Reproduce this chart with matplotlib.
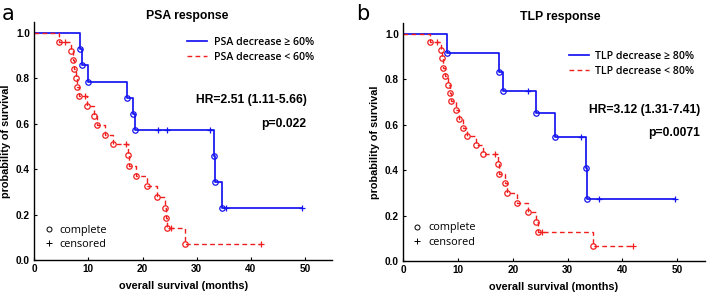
import matplotlib
matplotlib.use("Agg")
import matplotlib.pyplot as plt
from matplotlib.lines import Line2D

# ---------------- data ----------------
# Panel a: PSA response
psa_hi_event_t = [8.4, 8.8, 10.0, 17.2, 18.2, 18.6, 33.2, 33.4, 34.6]
psa_hi_event_s = [0.929, 0.857, 0.786, 0.714, 0.643, 0.571, 0.457, 0.343, 0.229]
psa_hi_cens_t = [22.9, 24.5, 32.5, 35.4, 49.5]
psa_hi_cens_s = [0.571, 0.571, 0.571, 0.229, 0.229]

psa_lo_event_t = [4.6, 6.8, 7.1, 7.3, 7.7, 7.9, 8.25, 9.8, 11.0, 11.5, 13.1, 14.6,
                  17.4, 17.5, 18.8, 20.8, 22.7, 24.1, 24.3, 24.5, 27.8]
psa_lo_event_s = [0.962, 0.921, 0.881, 0.841, 0.801, 0.761, 0.721, 0.679, 0.636,
                  0.594, 0.551, 0.509, 0.462, 0.416, 0.370, 0.324, 0.278, 0.231,
                  0.185, 0.139, 0.069]
psa_lo_cens_t = [5.7, 9.4, 16.9, 25.2, 41.9]
psa_lo_cens_s = [0.962, 0.721, 0.509, 0.139, 0.069]

# Panel b: TLP response
tlp_hi_event_t = [8.0, 17.5, 18.2, 24.2, 27.7, 33.3, 33.6]
tlp_hi_event_s = [0.917, 0.833, 0.750, 0.654, 0.547, 0.410, 0.274]
tlp_hi_cens_t = [22.8, 32.5, 35.7, 49.6]
tlp_hi_cens_s = [0.750, 0.547, 0.274, 0.274]

tlp_lo_event_t = [4.9, 6.8, 7.0, 7.3, 7.7, 8.2, 8.5, 8.7, 9.7, 10.2, 10.95, 11.6,
                  13.3, 14.6, 17.3, 17.5, 18.6, 18.9, 20.8, 22.8, 24.3, 24.5, 34.6]
tlp_lo_event_s = [0.964, 0.930, 0.892, 0.852, 0.815, 0.777, 0.741, 0.704, 0.664,
                  0.625, 0.588, 0.550, 0.510, 0.471, 0.428, 0.385, 0.343, 0.300,
                  0.257, 0.214, 0.171, 0.128, 0.064]
tlp_lo_cens_t = [6.2, 16.7, 25.3, 41.9]
tlp_lo_cens_s = [0.964, 0.471, 0.128, 0.064]

xticks = [0, 10, 20, 30, 40, 50]
yticks = [0.0, 0.2, 0.4, 0.6, 0.8, 1.0]

BLUE = "#1414f0"
RED = "#f01e1e"
BOLD_FONT = "Liberation Sans"
LEG_FONT = "Open Sans"

fig = plt.figure(figsize=(7.08, 2.95), dpi=100)
ax_a = fig.add_axes([0.0484, 0.1186, 0.4205, 0.808])
ax_b = fig.add_axes([0.5696, 0.1153, 0.4257, 0.808])


def km(ax, et, es, ct, cs, color, ls, lw, dashes=None):
    t_end = max(ct[-1], et[-1])
    xs = [0] + list(et) + [t_end]
    ys = [1.0] + list(es) + [es[-1]]
    line, = ax.step(xs, ys, where="post", color=color, lw=lw, linestyle=ls)
    if dashes is not None:
        line.set_dashes(dashes)
    ax.plot(et, es, linestyle="none", marker="o", ms=3.9, mfc="none",
            mec=color, mew=0.9)
    ax.plot(ct, cs, linestyle="none", marker="+", ms=4.5, mec=color, mew=0.9)
    return line


def panel(ax, title, title_x, hi, lo, hi_lab, lo_lab, hr, p,
          leg_anchor, comp_anchor, txt_x, hr_y, p_y):
    l_hi = km(ax, *hi, BLUE, "-", 1.25)
    l_lo = km(ax, *lo, RED, "--", 1.0, dashes=(3.4, 2.4))
    ax.set_xlim(0, 55)
    ax.set_ylim(0, 1.05)
    ax.set_xticks(xticks)
    ax.set_yticks(yticks)
    ax.set_yticklabels([f"{v:.1f}" for v in yticks])
    for sp in ("top", "right"):
        ax.spines[sp].set_visible(False)
    for sp in ("left", "bottom"):
        ax.spines[sp].set_linewidth(1.0)
    ax.tick_params(direction="in", length=2.5, width=0.8, pad=3)
    for lab in ax.get_xticklabels() + ax.get_yticklabels():
        lab.set_fontfamily(BOLD_FONT)
        lab.set_fontweight("bold")
        lab.set_fontsize(7.2)
    ax.set_xlabel("overall survival (months)", fontfamily=BOLD_FONT,
                  fontweight="bold", fontsize=7.8, labelpad=5)
    ax.set_ylabel("probability of survival", fontfamily=BOLD_FONT,
                  fontweight="bold", fontsize=7.8, labelpad=4)
    ax.set_title(title, fontfamily=BOLD_FONT, fontweight="bold",
                 fontsize=8.8, pad=1.5, x=title_x)
    leg = ax.legend([l_hi, l_lo], [hi_lab, lo_lab], loc="upper left",
                    bbox_to_anchor=leg_anchor, frameon=False,
                    prop={"family": LEG_FONT, "size": 7.6, "weight": "semibold"},
                    handlelength=1.9, handletextpad=0.6, labelspacing=0.4,
                    borderaxespad=0)
    ax.add_artist(leg)
    h_c = Line2D([], [], linestyle="none", marker="o", ms=3.6, mfc="none",
                 mec="black", mew=0.7)
    h_p = Line2D([], [], linestyle="none", marker="+", ms=4.5, mec="black",
                 mew=0.7)
    ax.legend([h_c, h_p], ["complete", "censored"], loc="upper left",
              bbox_to_anchor=comp_anchor, frameon=False,
              prop={"family": LEG_FONT, "size": 7.8},
              handlelength=0.8, handletextpad=0.6, labelspacing=0.3,
              borderaxespad=0)
    ax.text(txt_x, hr_y, hr, transform=ax.transAxes, ha="right", va="center",
            fontfamily=BOLD_FONT, fontweight="bold", fontsize=8.7)
    ax.text(txt_x, p_y, p, transform=ax.transAxes, ha="right", va="center",
            fontfamily=BOLD_FONT, fontweight="bold", fontsize=8.7)
    return ax


panel(ax_a, "PSA response", 0.515,
      (psa_hi_event_t, psa_hi_event_s, psa_hi_cens_t, psa_hi_cens_s),
      (psa_lo_event_t, psa_lo_event_s, psa_lo_cens_t, psa_lo_cens_s),
      "PSA decrease \u2265 60%", "PSA decrease < 60%",
      "HR=2.51 (1.11-5.66)", "p=0.022", (0.50, 0.955), (0.02, 0.165),
      0.915, 0.671, 0.571)
panel(ax_b, "TLP response", 0.52,
      (tlp_hi_event_t, tlp_hi_event_s, tlp_hi_cens_t, tlp_hi_cens_s),
      (tlp_lo_event_t, tlp_lo_event_s, tlp_lo_cens_t, tlp_lo_cens_s),
      "TLP decrease \u2265 80%", "TLP decrease < 80%",
      "HR=3.12 (1.31-7.41)", "p=0.0071", (0.535, 0.9), (0.017, 0.18),
      0.985, 0.632, 0.535)

fig.text(0.002, 0.985, "a", fontsize=15, ha="left", va="top",
         fontfamily="DejaVu Sans")
fig.text(0.503, 0.985, "b", fontsize=15, ha="left", va="top",
         fontfamily="DejaVu Sans")

fig.savefig("out.png", dpi=100)
